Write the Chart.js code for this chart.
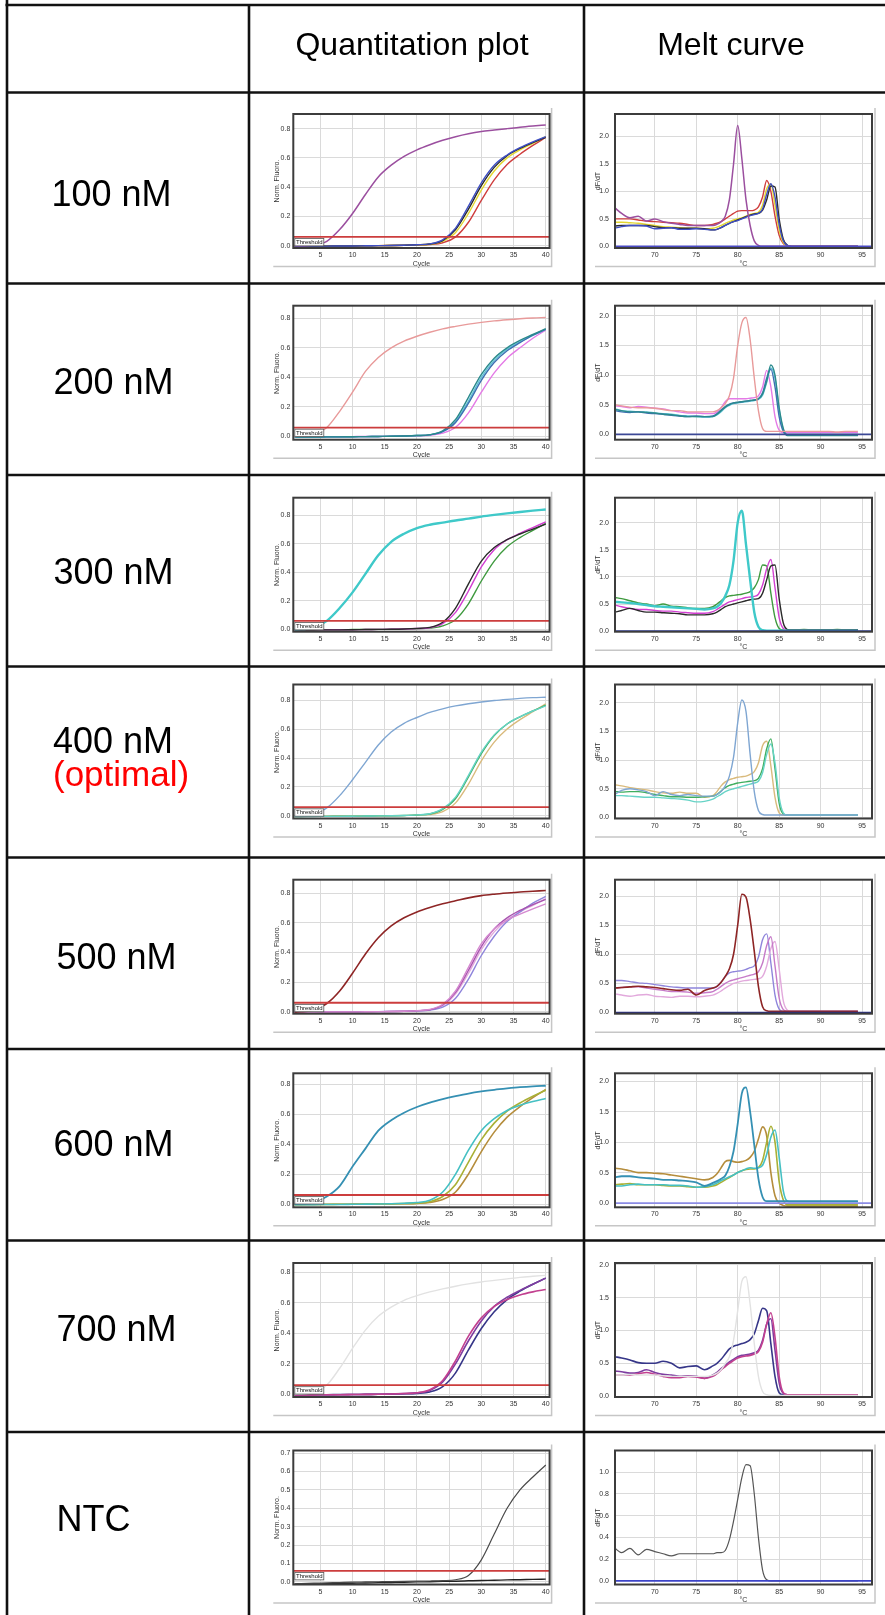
<!DOCTYPE html>
<html>
<head>
<meta charset="utf-8">
<script src="https://cdn.jsdelivr.net/npm/chart.js@4.4.1/dist/chart.umd.min.js"></script>
<style>
  html, body { margin: 0; padding: 0; background: #fff; }
  #page { position: relative; width: 885px; height: 1615px; overflow: hidden; background: #fff; }
  #page canvas { position: absolute; }
  #page svg { position: absolute; left: 0; top: 0; }
</style>
</head>
<body>
<div id="page"></div>
<script>
// ---------- primer concentration rows ----------
const rowLabels = ['100 nM', '200 nM', '300 nM', '400 nM', '500 nM', '600 nM', '700 nM', 'NTC'];
const optimalNote = '(optimal)';
const headerLabels = ['Quantitation plot', 'Melt curve'];

// ---------- shared x values and ticks ----------
const cycles = [1, 2, 4, 6, 8, 10, 12, 14, 16, 18, 20, 22, 24, 26, 28, 30, 32, 34, 36, 38, 40];
const meltTemps = [65.2, 66, 67, 68, 69, 70, 71, 72, 73, 74, 75, 76, 77, 77.5, 78, 78.5, 79, 79.5, 80, 80.5,
                   81, 81.5, 82, 82.5, 83, 83.5, 84, 84.5, 85, 85.5, 86, 86.5, 87, 88, 89, 90, 91, 92, 93, 94.5];
const quantXTicks = [5, 10, 15, 20, 25, 30, 35, 40];
const meltXTicks = [70, 75, 80, 85, 90, 95];
const quantYTicks = [0, 0.2, 0.4, 0.6, 0.8];
const quantYTicksNtc = [0, 0.1, 0.2, 0.3, 0.4, 0.5, 0.6, 0.7];
const meltYTicks = [0, 0.5, 1.0, 1.5, 2.0];
const meltYTicksNtc = [0, 0.2, 0.4, 0.6, 0.8, 1.0];
const thresholdLevel = 0.06;

// ---------- quantitation curves (Norm. Fluoro. per cycle) ----------
const q100Purple = [0.000,0.000,0.005,0.030,0.110,0.220,0.350,0.470,0.550,0.610,0.655,0.690,0.720,0.745,0.765,0.780,0.790,0.800,0.810,0.818,0.825];
const q100Blue   = [-0.004,-0.004,-0.003,-0.003,-0.002,-0.002,-0.001,0.000,0.001,0.003,0.006,0.012,0.040,0.120,0.270,0.430,0.550,0.620,0.670,0.710,0.745];
const q100Black  = [-0.004,-0.004,-0.003,-0.003,-0.002,-0.002,-0.001,0.000,0.001,0.003,0.006,0.011,0.035,0.110,0.250,0.410,0.535,0.615,0.665,0.705,0.740];
const q100Yellow = [-0.003,-0.003,-0.003,-0.002,-0.002,-0.001,0.000,0.000,0.001,0.002,0.005,0.010,0.030,0.090,0.220,0.380,0.510,0.600,0.655,0.700,0.745];
const q100Red    = [-0.003,-0.003,-0.003,-0.002,-0.002,-0.001,0.000,0.000,0.001,0.002,0.004,0.008,0.020,0.060,0.160,0.310,0.450,0.555,0.625,0.685,0.740];

const q200Pink    = [0.000,0.002,0.012,0.060,0.170,0.300,0.440,0.535,0.600,0.645,0.678,0.705,0.728,0.745,0.760,0.772,0.782,0.790,0.797,0.802,0.805];
const q200Teal    = [-0.004,-0.004,-0.004,-0.003,-0.003,-0.002,-0.001,0.000,0.001,0.003,0.006,0.012,0.038,0.115,0.265,0.420,0.530,0.600,0.650,0.690,0.730];
const q200Blue    = [-0.004,-0.004,-0.004,-0.003,-0.003,-0.002,-0.001,0.000,0.001,0.003,0.006,0.011,0.032,0.095,0.225,0.380,0.500,0.580,0.635,0.685,0.725];
const q200Cyan    = [-0.003,-0.003,-0.003,-0.003,-0.002,-0.002,-0.001,0.000,0.001,0.003,0.006,0.011,0.034,0.100,0.240,0.400,0.515,0.590,0.640,0.685,0.725];
const q200Magenta = [-0.003,-0.003,-0.003,-0.002,-0.002,-0.001,0.000,0.000,0.001,0.002,0.004,0.008,0.022,0.062,0.160,0.300,0.430,0.530,0.600,0.665,0.720];

const q300Cyan    = [0.000,0.002,0.012,0.060,0.150,0.260,0.390,0.520,0.615,0.672,0.712,0.735,0.750,0.765,0.778,0.792,0.804,0.815,0.825,0.834,0.842];
const q300Black   = [-0.004,-0.004,-0.004,-0.003,-0.003,-0.002,-0.001,0.000,0.001,0.003,0.007,0.014,0.050,0.150,0.320,0.480,0.575,0.630,0.670,0.705,0.740];
const q300Magenta = [-0.004,-0.004,-0.003,-0.003,-0.002,-0.002,-0.001,0.000,0.001,0.003,0.006,0.012,0.040,0.120,0.270,0.440,0.560,0.630,0.675,0.715,0.755];
const q300Green   = [-0.003,-0.003,-0.003,-0.002,-0.002,-0.001,0.000,0.000,0.001,0.002,0.005,0.009,0.025,0.070,0.180,0.340,0.480,0.580,0.645,0.695,0.745];

const q400Blue  = [0.000,0.002,0.010,0.055,0.140,0.250,0.370,0.490,0.580,0.640,0.680,0.715,0.740,0.760,0.775,0.787,0.797,0.805,0.812,0.817,0.820];
const q400Aqua  = [-0.004,-0.004,-0.004,-0.003,-0.003,-0.002,-0.001,0.000,0.001,0.003,0.007,0.015,0.050,0.130,0.280,0.440,0.560,0.635,0.685,0.725,0.760];
const q400Green = [-0.004,-0.004,-0.003,-0.003,-0.002,-0.002,-0.001,0.000,0.001,0.003,0.006,0.013,0.045,0.120,0.270,0.430,0.555,0.635,0.685,0.725,0.765];
const q400Tan   = [-0.003,-0.003,-0.003,-0.002,-0.002,-0.001,0.000,0.000,0.001,0.002,0.005,0.010,0.030,0.090,0.220,0.380,0.510,0.600,0.665,0.720,0.775];

const q500Red    = [-0.005,0.000,0.010,0.055,0.140,0.260,0.390,0.500,0.580,0.635,0.675,0.705,0.730,0.750,0.770,0.785,0.795,0.803,0.810,0.815,0.820];
const q500Pink   = [-0.004,-0.004,-0.004,-0.003,-0.003,-0.002,-0.001,0.000,0.001,0.003,0.007,0.015,0.050,0.140,0.300,0.460,0.560,0.620,0.660,0.695,0.730];
const q500Purple = [-0.004,-0.004,-0.003,-0.003,-0.002,-0.002,-0.001,0.000,0.001,0.003,0.006,0.013,0.045,0.130,0.280,0.440,0.560,0.635,0.685,0.725,0.760];
const q500Violet = [-0.003,-0.003,-0.003,-0.002,-0.002,-0.001,0.000,0.000,0.001,0.002,0.005,0.010,0.030,0.090,0.220,0.380,0.510,0.610,0.675,0.735,0.780];
const q500Light  = [-0.003,-0.003,-0.003,-0.002,-0.002,-0.001,0.000,0.000,0.001,0.003,0.006,0.012,0.040,0.120,0.260,0.420,0.540,0.620,0.675,0.720,0.765];

const q600Teal  = [0.000,0.002,0.010,0.050,0.120,0.250,0.370,0.490,0.560,0.610,0.648,0.677,0.700,0.720,0.738,0.752,0.763,0.772,0.780,0.786,0.790];
const q600Cyan  = [-0.004,-0.004,-0.004,-0.003,-0.003,-0.002,-0.001,0.000,0.002,0.005,0.010,0.025,0.080,0.200,0.360,0.490,0.570,0.625,0.660,0.685,0.705];
const q600Olive = [-0.004,-0.004,-0.003,-0.003,-0.002,-0.002,-0.001,0.000,0.001,0.003,0.006,0.015,0.050,0.130,0.280,0.430,0.540,0.620,0.675,0.720,0.760];
const q600Gold  = [-0.003,-0.003,-0.003,-0.002,-0.002,-0.001,0.000,0.000,0.001,0.002,0.004,0.010,0.030,0.080,0.200,0.350,0.480,0.580,0.650,0.710,0.765];

const q700Gray    = [0.000,0.002,0.012,0.060,0.170,0.300,0.420,0.510,0.570,0.615,0.645,0.670,0.690,0.707,0.722,0.735,0.745,0.755,0.765,0.772,0.778];
const q700Magenta = [-0.004,-0.004,-0.004,-0.003,-0.003,-0.002,-0.001,0.000,0.002,0.005,0.010,0.030,0.090,0.220,0.380,0.500,0.575,0.620,0.650,0.670,0.685];
const q700Purple  = [-0.004,-0.004,-0.004,-0.003,-0.003,-0.002,-0.001,0.000,0.002,0.004,0.009,0.025,0.080,0.200,0.350,0.480,0.575,0.635,0.680,0.720,0.760];
const q700Navy    = [-0.004,-0.004,-0.003,-0.003,-0.002,-0.002,-0.001,0.000,0.001,0.003,0.006,0.015,0.050,0.140,0.290,0.430,0.540,0.620,0.675,0.720,0.760];

const qNtcGray  = [-0.010,-0.009,-0.007,-0.005,-0.003,-0.001,0.000,0.001,0.002,0.003,0.004,0.005,0.007,0.012,0.035,0.120,0.260,0.400,0.500,0.570,0.635];
const qNtcBlack = [-0.012,-0.012,-0.011,-0.010,-0.008,-0.007,-0.006,-0.004,-0.003,-0.002,0.000,0.001,0.003,0.004,0.006,0.008,0.009,0.011,0.012,0.014,0.015];

// ---------- melt curves (dF/dT per temperature) ----------
const m100Purple = [0.70,0.60,0.52,0.55,0.46,0.50,0.45,0.42,0.40,0.38, 0.38,0.38,0.38,0.40,0.45,0.55,0.85,1.50,2.20,1.60, 0.85,0.38,0.10,0.02,0.00,0.00,0.00,0.00,0.00,0.00, 0.00,0.00,0.00,0.00,0.00,0.00,0.00,0.00,0.00,0.00];
const m100Red    = [0.50,0.50,0.50,0.48,0.46,0.45,0.44,0.43,0.42,0.40, 0.38,0.38,0.40,0.42,0.45,0.50,0.55,0.60,0.64,0.65, 0.65,0.65,0.66,0.72,0.90,1.20,1.00,0.55,0.20,0.05, 0.01,0.00,0.00,0.00,0.00,0.00,0.00,0.00,0.00,0.00];
const m100Yellow = [0.44,0.44,0.43,0.42,0.40,0.38,0.36,0.35,0.34,0.33, 0.33,0.32,0.33,0.35,0.38,0.42,0.45,0.48,0.50,0.52, 0.55,0.58,0.60,0.62,0.75,1.05,1.13,0.75,0.30,0.07, 0.01,0.00,0.00,0.00,0.00,0.00,0.00,0.00,0.00,0.00];
const m100Blue   = [0.33,0.36,0.38,0.38,0.37,0.32,0.33,0.34,0.31,0.31, 0.32,0.31,0.30,0.31,0.34,0.38,0.42,0.45,0.47,0.50, 0.53,0.56,0.58,0.60,0.68,0.95,1.14,0.90,0.40,0.10, 0.02,0.00,0.00,0.00,0.00,0.00,0.00,0.00,0.00,0.00];
const m100Black  = [0.37,0.38,0.38,0.38,0.38,0.36,0.34,0.34,0.33,0.33, 0.33,0.32,0.30,0.31,0.34,0.38,0.42,0.45,0.48,0.51, 0.54,0.57,0.59,0.60,0.66,0.85,1.10,1.08,0.50,0.13, 0.02,0.00,0.00,0.00,0.00,0.00,0.00,0.00,0.00,0.00];

const m200Pink    = [0.50,0.48,0.46,0.45,0.45,0.44,0.42,0.40,0.40,0.38, 0.38,0.38,0.38,0.40,0.45,0.52,0.65,0.95,1.50,1.88, 1.97,1.60,0.95,0.40,0.10,0.05,0.05,0.05,0.05,0.05, 0.05,0.05,0.05,0.05,0.05,0.05,0.05,0.04,0.05,0.05];
const m200Teal    = [0.42,0.40,0.38,0.38,0.37,0.36,0.34,0.33,0.31,0.30, 0.30,0.30,0.30,0.34,0.40,0.46,0.50,0.53,0.54,0.55, 0.56,0.57,0.58,0.60,0.68,0.90,1.17,1.00,0.45,0.10, -0.02,-0.02,-0.02,-0.02,-0.02,-0.02,-0.02,-0.02,-0.02,-0.02];
const m200Blue    = [0.40,0.38,0.37,0.38,0.36,0.35,0.34,0.32,0.31,0.30, 0.31,0.30,0.31,0.35,0.41,0.47,0.51,0.53,0.54,0.55, 0.56,0.57,0.58,0.60,0.70,0.95,1.10,0.80,0.30,0.05, -0.01,-0.01,-0.01,-0.01,-0.01,-0.01,-0.01,-0.01,-0.01,-0.01];
const m200Cyan    = [0.43,0.40,0.39,0.38,0.38,0.36,0.35,0.34,0.32,0.31, 0.30,0.29,0.30,0.33,0.38,0.45,0.49,0.52,0.53,0.54, 0.55,0.56,0.57,0.59,0.66,0.88,1.12,0.95,0.42,0.08, 0.00,0.00,0.00,0.00,0.00,0.00,0.00,0.00,0.00,0.00];
const m200Magenta = [0.48,0.47,0.45,0.47,0.46,0.44,0.43,0.40,0.38,0.36, 0.36,0.35,0.35,0.38,0.45,0.55,0.60,0.60,0.60,0.60, 0.60,0.61,0.62,0.65,0.80,1.08,0.80,0.30,0.07,0.03, 0.03,0.03,0.03,0.03,0.03,0.03,0.03,0.03,0.03,0.03];

const m300Cyan    = [0.54,0.53,0.52,0.50,0.48,0.46,0.45,0.44,0.43,0.42, 0.41,0.40,0.42,0.45,0.52,0.65,0.85,1.30,2.00,2.22, 1.60,0.95,0.35,0.08,0.02,0.01,0.01,0.01,0.01,0.01, 0.01,0.01,0.01,0.01,0.01,0.01,0.01,0.01,0.01,0.01];
const m300Green   = [0.62,0.60,0.56,0.52,0.50,0.47,0.50,0.46,0.45,0.43, 0.42,0.42,0.45,0.50,0.56,0.62,0.65,0.66,0.67,0.68, 0.70,0.73,0.80,0.95,1.22,1.20,0.70,0.25,0.05,0.02, 0.02,0.02,0.02,0.03,0.02,0.02,0.02,0.03,0.02,0.02];
const m300Magenta = [0.48,0.45,0.42,0.40,0.40,0.38,0.37,0.37,0.35,0.34, 0.33,0.33,0.36,0.40,0.45,0.50,0.54,0.56,0.58,0.60, 0.62,0.63,0.64,0.68,0.85,1.15,1.32,0.80,0.25,0.05, 0.02,0.02,0.02,0.02,0.02,0.02,0.02,0.02,0.02,0.02];
const m300Black   = [0.35,0.38,0.42,0.38,0.35,0.35,0.34,0.33,0.32,0.30, 0.30,0.30,0.32,0.35,0.40,0.45,0.48,0.50,0.52,0.54, 0.56,0.58,0.59,0.60,0.70,0.95,1.20,1.22,0.60,0.15, 0.03,0.02,0.02,0.02,0.02,0.02,0.02,0.02,0.02,0.02];

const m400Blue  = [0.40,0.47,0.50,0.48,0.45,0.38,0.45,0.40,0.38,0.40, 0.38,0.37,0.37,0.40,0.45,0.55,0.72,1.05,1.65,2.05, 1.85,1.10,0.45,0.12,0.05,0.04,0.04,0.04,0.04,0.04, 0.04,0.04,0.04,0.04,0.04,0.04,0.04,0.04,0.04,0.04];
const m400Tan   = [0.57,0.55,0.52,0.50,0.48,0.45,0.43,0.42,0.44,0.42, 0.42,0.35,0.38,0.45,0.55,0.62,0.66,0.68,0.70,0.71, 0.72,0.75,0.80,0.95,1.25,1.33,0.90,0.35,0.08,0.04, 0.04,0.04,0.04,0.04,0.04,0.04,0.04,0.04,0.04,0.04];
const m400Green = [0.45,0.44,0.45,0.45,0.43,0.40,0.38,0.36,0.36,0.35, 0.35,0.36,0.37,0.40,0.46,0.52,0.56,0.58,0.60,0.61, 0.62,0.63,0.64,0.68,0.85,1.20,1.37,0.85,0.25,0.06, 0.04,0.04,0.04,0.04,0.04,0.04,0.04,0.04,0.04,0.04];
const m400Aqua  = [0.38,0.38,0.37,0.36,0.35,0.35,0.34,0.33,0.32,0.30, 0.27,0.28,0.32,0.36,0.40,0.45,0.48,0.50,0.52,0.54, 0.56,0.58,0.60,0.63,0.78,1.10,1.28,0.95,0.35,0.08, 0.04,0.04,0.04,0.04,0.04,0.04,0.04,0.04,0.04,0.04];

const m500Red    = [0.42,0.43,0.44,0.45,0.44,0.43,0.41,0.39,0.38,0.40, 0.30,0.38,0.42,0.45,0.52,0.62,0.75,1.00,1.50,2.03, 1.98,1.60,1.05,0.45,0.10,0.03,0.02,0.02,0.02,0.02, 0.02,0.02,0.02,0.02,0.02,0.02,0.02,0.02,0.02,0.02];
const m500Violet = [0.55,0.55,0.53,0.51,0.50,0.48,0.46,0.44,0.43,0.42, 0.42,0.42,0.42,0.45,0.52,0.62,0.68,0.70,0.71,0.72, 0.74,0.77,0.80,0.95,1.25,1.35,0.85,0.30,0.06,0.02, 0.02,0.02,0.02,0.02,0.02,0.02,0.02,0.02,0.02,0.02];
const m500Pink   = [0.42,0.43,0.44,0.44,0.42,0.40,0.38,0.36,0.36,0.35, 0.33,0.34,0.36,0.40,0.45,0.50,0.54,0.56,0.58,0.60, 0.62,0.64,0.66,0.70,0.85,1.15,1.30,0.80,0.25,0.05, 0.02,0.02,0.02,0.02,0.02,0.02,0.02,0.02,0.02,0.02];
const m500Light  = [0.32,0.30,0.28,0.30,0.31,0.28,0.27,0.26,0.28,0.28, 0.27,0.28,0.30,0.33,0.37,0.42,0.46,0.50,0.52,0.54, 0.55,0.56,0.57,0.58,0.62,0.80,1.10,1.22,0.75,0.20, 0.04,0.02,0.02,0.02,0.02,0.02,0.02,0.02,0.02,0.02];

const m600Teal  = [0.42,0.44,0.44,0.42,0.41,0.40,0.38,0.38,0.37,0.36, 0.34,0.28,0.33,0.36,0.40,0.45,0.60,0.85,1.30,1.80, 1.90,1.50,0.95,0.40,0.10,0.03,0.03,0.03,0.03,0.03, 0.03,0.03,0.03,0.03,0.03,0.03,0.03,0.03,0.03,0.03];
const m600Gold  = [0.57,0.56,0.53,0.50,0.50,0.49,0.48,0.46,0.44,0.42, 0.40,0.38,0.42,0.48,0.58,0.68,0.70,0.68,0.67,0.68, 0.70,0.75,0.85,1.05,1.25,1.10,0.50,0.12,0.00,-0.04, -0.05,-0.05,-0.05,-0.05,-0.05,-0.05,-0.05,-0.05,-0.05,-0.05];
const m600Olive = [0.30,0.31,0.32,0.30,0.30,0.30,0.29,0.28,0.28,0.27, 0.26,0.26,0.28,0.30,0.34,0.38,0.42,0.46,0.50,0.53, 0.55,0.56,0.56,0.58,0.70,1.00,1.26,1.00,0.35,0.05, -0.03,-0.03,-0.03,-0.03,-0.03,-0.03,-0.03,-0.03,-0.03,-0.03];
const m600Cyan  = [0.28,0.28,0.30,0.31,0.30,0.30,0.30,0.29,0.29,0.28, 0.26,0.27,0.30,0.33,0.37,0.40,0.43,0.46,0.50,0.53, 0.56,0.58,0.57,0.58,0.62,0.80,1.08,1.20,0.75,0.20, 0.03,0.02,0.02,0.02,0.02,0.02,0.02,0.02,0.02,0.02];

const m700Gray    = [0.32,0.32,0.33,0.32,0.32,0.32,0.31,0.30,0.30,0.30, 0.30,0.30,0.32,0.35,0.40,0.50,0.60,0.85,1.30,1.75, 1.82,1.40,0.80,0.30,0.07,0.02,0.01,0.01,0.01,0.01, 0.01,0.01,0.01,0.01,0.01,0.01,0.01,0.01,0.01,0.01];
const m700Navy    = [0.60,0.58,0.55,0.51,0.50,0.50,0.53,0.50,0.43,0.45, 0.46,0.40,0.46,0.50,0.56,0.64,0.72,0.76,0.78,0.80, 0.82,0.86,0.95,1.15,1.34,1.30,0.80,0.30,0.05,0.02, 0.02,0.02,0.02,0.02,0.02,0.02,0.02,0.02,0.02,0.02];
const m700Purple  = [0.38,0.37,0.35,0.36,0.40,0.36,0.33,0.32,0.30,0.31, 0.30,0.27,0.32,0.36,0.42,0.47,0.52,0.56,0.60,0.62, 0.63,0.64,0.66,0.70,0.85,1.10,1.18,0.70,0.20,0.04, 0.02,0.02,0.02,0.02,0.02,0.02,0.02,0.02,0.02,0.02];
const m700Magenta = [0.32,0.32,0.32,0.34,0.36,0.33,0.30,0.28,0.28,0.30, 0.29,0.27,0.30,0.34,0.40,0.45,0.50,0.54,0.58,0.60, 0.61,0.62,0.64,0.68,0.82,1.10,1.27,0.90,0.30,0.05, 0.02,0.02,0.02,0.02,0.02,0.02,0.02,0.02,0.02,0.02];

const mNtcGray = [0.30,0.26,0.30,0.24,0.29,0.27,0.25,0.23,0.25,0.25, 0.25,0.25,0.25,0.26,0.26,0.28,0.38,0.55,0.75,0.95, 1.07,1.06,0.80,0.40,0.10,0.01,0.00,0.00,0.00,0.00, 0.00,0.00,0.00,0.00,0.00,0.00,0.00,0.00,0.00,0.00];

// ---------- per-row series lists, colours and line widths ----------
const quantSeries = [
  [q100Purple, q100Blue, q100Black, q100Yellow, q100Red],
  [q200Pink, q200Teal, q200Blue, q200Cyan, q200Magenta],
  [q300Cyan, q300Black, q300Magenta, q300Green],
  [q400Blue, q400Aqua, q400Green, q400Tan],
  [q500Red, q500Pink, q500Purple, q500Violet, q500Light],
  [q600Teal, q600Cyan, q600Olive, q600Gold],
  [q700Gray, q700Magenta, q700Purple, q700Navy],
  [qNtcGray, qNtcBlack]
];
const meltSeries = [
  [m100Purple, m100Blue, m100Black, m100Yellow, m100Red],
  [m200Pink, m200Teal, m200Blue, m200Cyan, m200Magenta],
  [m300Cyan, m300Black, m300Magenta, m300Green],
  [m400Blue, m400Aqua, m400Green, m400Tan],
  [m500Red, m500Pink, m500Light, m500Violet],
  [m600Teal, m600Cyan, m600Olive, m600Gold],
  [m700Gray, m700Magenta, m700Purple, m700Navy],
  [mNtcGray]
];
const quantColors = [
  ['#9b4f9f', '#3f4fc4', '#2a2a2a', '#e3d630', '#cf3d3d'],
  ['#e89a9a', '#2b8a8c', '#3e6fb2', '#5cc2d6', '#e47ae6'],
  ['#3fc9c9', '#2a2a2a', '#d23fd2', '#3f9a3f'],
  ['#7fa6d2', '#66d3c6', '#3fae5e', '#d9ba7c'],
  ['#8e2525', '#d58ad0', '#a855b0', '#8f85db', '#e2a9dc'],
  ['#3590b3', '#45c0c3', '#a9b035', '#b58d3c'],
  ['#e2e2e2', '#c2408f', '#7e3da0', '#363688'],
  ['#4a4a4a', '#222222']
];
const meltColors = [
  ['#9b4f9f', '#3f4fc4', '#2a2a2a', '#e3d630', '#cf3d3d'],
  ['#e89a9a', '#2b8a8c', '#3e6fb2', '#5cc2d6', '#e47ae6'],
  ['#3fc9c9', '#2a2a2a', '#d23fd2', '#3f9a3f'],
  ['#7fa6d2', '#66d3c6', '#3fae5e', '#d9ba7c'],
  ['#8e2525', '#c67ac8', '#e2a9dc', '#8f85db'],
  ['#3590b3', '#45c0c3', '#a9b035', '#b58d3c'],
  ['#e2e2e2', '#c2408f', '#7e3da0', '#363688'],
  ['#555555']
];
const quantWidths = [
  [1.5, 1.4, 1.4, 1.4, 1.4],
  [1.4, 1.4, 1.4, 1.4, 1.4],
  [2.4, 1.4, 1.4, 1.4],
  [1.4, 1.4, 1.4, 1.4],
  [1.6, 1.4, 1.4, 1.4, 1.4],
  [1.8, 1.6, 1.6, 1.6],
  [1.4, 1.6, 1.6, 1.6],
  [1.2, 1.4]
];
// zero-level baseline trace on the melt plots (null = not shown)
const meltBaselineColors = ['#4a4ac4', '#3c4896', '#3443a8', null, '#2c2f84', '#8c8ce6', null, '#3d45c8'];

// ---------- axis ranges ----------
const quantXRange = [0.8, 40.6];
const meltXRange = [65.2, 96.2];
const quantYRanges = [[-0.016, 0.900], [-0.022, 0.885], [-0.016, 0.925], [-0.018, 0.908],
                      [-0.014, 0.893], [-0.022, 0.873], [-0.018, 0.859], [-0.014, 0.714]];
const meltYRanges = [[-0.03, 2.41], [-0.09, 2.17], [-0.01, 2.46], [-0.02, 2.32],
                     [-0.02, 2.28], [-0.07, 2.13], [-0.015, 2.03], [-0.033, 1.20]];

// ---------- page geometry ----------
const rowTops = [92.5, 283.5, 475, 666.5, 857.5, 1049, 1240.5, 1432];
const plotTopOffsets = [21.5, 22.2, 22.7, 18, 22.2, 24.3, 22.5, 18.5];
const PLOT_H = 134;
const CANVAS_H = 186;
const X_AXIS_H = 20;
const QUANT = { left: 251, width: 332, padLeft: 18, yWidth: 24.3, padRight: 33.4, tickPad: 3 };
const MELT  = { left: 586, width: 299, padLeft: 4,  yWidth: 25,   padRight: 13,   tickPad: 6 };
const FONT = "'Liberation Sans', Arial, Helvetica, sans-serif";
const GRID = '#dadada';
const TICK = '#333333';
const THRESHOLD_COLOR = '#cc3d3d';

const page = document.getElementById('page');
const toPoints = (xs, ys) => xs.map((x, i) => ({ x: x, y: ys[i] }));

// Plot-area frame, soft drop edge, and the "Threshold" tag.
const framePlugin = {
  id: 'plotFrame',
  afterDatasetsDraw(chart, args, opts) {
    const { ctx, chartArea: a } = chart;
    ctx.save();
    ctx.strokeStyle = '#c6c6c6';
    ctx.lineWidth = 1.5;
    ctx.beginPath();
    ctx.moveTo(a.right + opts.edgeDx, a.top - 6);
    ctx.lineTo(a.right + opts.edgeDx, a.bottom + 18.5);
    ctx.lineTo(a.left - 20, a.bottom + 18.5);
    ctx.stroke();

    ctx.strokeStyle = '#3c3c3c';
    ctx.lineWidth = 2;
    ctx.strokeRect(a.left, a.top, a.right - a.left, a.bottom - a.top);

    if (opts.threshold != null) {
      const ty = chart.scales.y.getPixelForValue(opts.threshold);
      const bx = a.left + 1.5, by = ty + 1.6, bw = 29, bh = 7.4;
      ctx.fillStyle = '#ffffff';
      ctx.fillRect(bx, by, bw, bh);
      ctx.strokeStyle = '#555555';
      ctx.lineWidth = 0.8;
      ctx.strokeRect(bx, by, bw, bh);
      ctx.fillStyle = '#111111';
      ctx.font = '6px ' + FONT;
      ctx.textBaseline = 'middle';
      ctx.textAlign = 'left';
      ctx.fillText('Threshold', bx + 1.2, by + bh / 2 + 0.3);
    }
    ctx.restore();
  }
};

function xAxis(range, ticks, title) {
  return {
    type: 'linear', min: range[0], max: range[1],
    afterBuildTicks: s => { s.ticks = ticks.map(v => ({ value: v })); },
    afterFit: s => { s.height = X_AXIS_H; },
    grid: { color: GRID, lineWidth: 1, drawTicks: false },
    border: { display: false },
    ticks: { font: { family: FONT, size: 7 }, color: TICK, padding: 3, maxRotation: 0, autoSkip: false,
             callback: v => String(v) },
    title: { display: true, text: title, font: { family: FONT, size: 7 }, color: TICK, padding: 0 }
  };
}
function yAxis(range, ticks, title, width, tickPad) {
  return {
    type: 'linear', min: range[0], max: range[1],
    afterBuildTicks: s => { s.ticks = ticks.map(v => ({ value: v })); },
    afterFit: s => { s.width = width; },
    grid: { color: GRID, lineWidth: 1, drawTicks: false },
    border: { display: false },
    ticks: { font: { family: FONT, size: 7 }, color: TICK, padding: tickPad, autoSkip: false,
             callback: v => v.toFixed(1) },
    title: { display: true, text: title, font: { family: FONT, size: 7 }, color: TICK,
             padding: { top: 3.8, bottom: 0 } }
  };
}

function buildChart(box, rowIdx, datasets, xCfg, yCfg, thr, edgeDx) {
  const top = Math.round(rowTops[rowIdx]);
  const padTop = rowTops[rowIdx] + plotTopOffsets[rowIdx] - top;
  const cv = document.createElement('canvas');
  cv.width = box.width;
  cv.height = CANVAS_H;
  cv.style.left = box.left + 'px';
  cv.style.top = top + 'px';
  cv.style.width = box.width + 'px';
  cv.style.height = CANVAS_H + 'px';
  page.appendChild(cv);
  new Chart(cv, {
    type: 'line',
    data: { datasets: datasets },
    options: {
      responsive: false, animation: false, devicePixelRatio: 1,
      layout: { padding: { left: box.padLeft, right: box.padRight, top: padTop,
                           bottom: CANVAS_H - padTop - PLOT_H - X_AXIS_H } },
      elements: { point: { radius: 0 }, line: { cubicInterpolationMode: 'monotone', borderJoinStyle: 'round' } },
      plugins: { legend: { display: false }, tooltip: { enabled: false },
                 plotFrame: { threshold: thr, edgeDx: edgeDx } },
      scales: { x: xCfg, y: yCfg }
    },
    plugins: [framePlugin]
  });
}

rowLabels.forEach((label, i) => {
  const ntc = i === rowLabels.length - 1;

  // quantitation plot
  const qSets = [{
    data: [{ x: quantXRange[0], y: thresholdLevel }, { x: quantXRange[1], y: thresholdLevel }],
    borderColor: THRESHOLD_COLOR, borderWidth: 1.8
  }];
  quantSeries[i].forEach((ys, k) => qSets.push({
    data: toPoints(cycles, ys), borderColor: quantColors[i][k], borderWidth: quantWidths[i][k]
  }));
  buildChart(QUANT, i, qSets,
    xAxis(quantXRange, quantXTicks, 'Cycle'),
    yAxis(quantYRanges[i], ntc ? quantYTicksNtc : quantYTicks, 'Norm. Fluoro.', QUANT.yWidth, QUANT.tickPad),
    thresholdLevel, 2);

  // melt curve
  const mSets = [];
  if (meltBaselineColors[i]) {
    mSets.push({ data: [{ x: meltXRange[0], y: 0 }, { x: meltXRange[1], y: 0 }],
                 borderColor: meltBaselineColors[i], borderWidth: 1.8 });
  }
  meltSeries[i].forEach((ys, k) => mSets.push({
    data: toPoints(meltTemps, ys), borderColor: meltColors[i][k], borderWidth: quantWidths[i][k] || 1.4
  }));
  buildChart(MELT, i, mSets,
    xAxis(meltXRange, meltXTicks, '\u00B0C'),
    yAxis(meltYRanges[i], ntc ? meltYTicksNtc : meltYTicks, 'dF/dT', MELT.yWidth, MELT.tickPad),
    null, 3);
});

// ---------- table grid and text ----------
const labelX = [51.5, 53.5, 53.5, 53, 56.5, 53.5, 56.5, 56.5];
const labelBaselines = [206, 393.5, 584, 753, 968.5, 1156, 1341, 1531];
const colLines = [7, 249, 584];
const headerTop = 5;
const rowLines = rowTops;

let svg = '<svg xmlns="http://www.w3.org/2000/svg" width="885" height="1615" viewBox="0 0 885 1615">';
svg += '<g stroke="#111" stroke-width="2.6" fill="none">';
svg += `<line x1="5.5" y1="${headerTop}" x2="885" y2="${headerTop}"/>`;
svg += `<line x1="${colLines[0]}" y1="0" x2="${colLines[0]}" y2="1615"/>`;
colLines.slice(1).forEach(x => { svg += `<line x1="${x}" y1="${headerTop}" x2="${x}" y2="1615"/>`; });
rowLines.forEach(y => { svg += `<line x1="${colLines[0]}" y1="${y}" x2="885" y2="${y}"/>`; });
svg += '</g>';
svg += `<g font-family="${FONT}" fill="#000">`;
svg += `<text x="412" y="55" font-size="32" text-anchor="middle">${headerLabels[0]}</text>`;
svg += `<text x="731" y="55" font-size="32" text-anchor="middle">${headerLabels[1]}</text>`;
rowLabels.forEach((t, i) => {
  svg += `<text x="${labelX[i]}" y="${labelBaselines[i]}" font-size="36">${t}</text>`;
});
svg += `<text x="53" y="786" font-size="35" fill="#ff0000">${optimalNote}</text>`;
svg += '</g></svg>';
page.insertAdjacentHTML('beforeend', svg);
</script>
</body>
</html>
